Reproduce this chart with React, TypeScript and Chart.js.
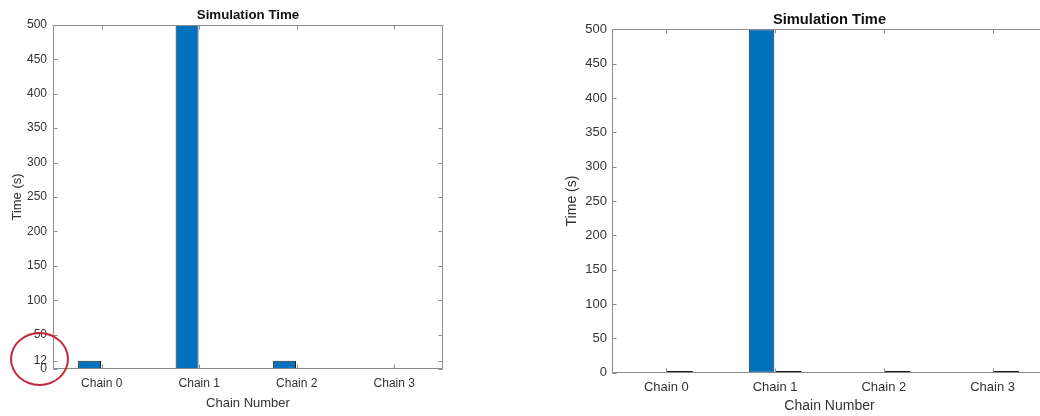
import React, { useEffect, useRef } from "react";
import { Chart, registerables } from "chart.js";

Chart.register(...registerables);

const categories = ["Chain 0", "Chain 1", "Chain 2", "Chain 3"];
const leftSeriesA = [12, 500, 12, 0];
const leftSeriesB = [1.2, 1.2, 1.2, 1.2];
const rightSeriesA = [0, 500, 0, 0];
const rightSeriesB = [2.5, 2.5, 2.5, 2.5];
const leftYTicks = [0, 12, 50, 100, 150, 200, 250, 300, 350, 400, 450, 500];
const rightYTicks = [0, 50, 100, 150, 200, 250, 300, 350, 400, 450, 500];

const titleText = "Simulation Time";
const yTitle = "Time (s)";
const xTitle = "Chain Number";

const FONT = "'Liberation Sans', Arial, Helvetica, sans-serif";
const TEXT = "#333333";
const AXIS = "#8c8c8c";
const BLUE = "#0072BD";

const framePlugin = {
  id: "matlabFrame",
  afterDatasetsDraw(chart: any) {
    const { ctx, chartArea: a, scales } = chart;
    const x = scales.x;
    const y = scales.y;
    ctx.save();
    ctx.strokeStyle = AXIS;
    ctx.lineWidth = 1;
    const L = Math.round(a.left) + 0.5;
    const R = Math.round(a.right) - 0.5;
    const T = Math.round(a.top) + 0.5;
    const B = Math.round(a.bottom) - 0.5;
    const line = (x1: number, y1: number, x2: number, y2: number) => {
      ctx.beginPath();
      ctx.moveTo(x1, y1);
      ctx.lineTo(x2, y2);
      ctx.stroke();
    };
    ctx.strokeRect(L, T, R - L, B - T);
    y.ticks.forEach((_t: any, i: number) => {
      const py = Math.round(y.getPixelForTick(i)) + 0.5;
      line(L, py, L + 4, py);
      line(R, py, R - 4, py);
    });
    x.ticks.forEach((_t: any, i: number) => {
      const px = Math.round(x.getPixelForTick(i)) + 0.5;
      line(px, B, px, B - 4);
      line(px, T, px, T + 4);
    });
    ctx.restore();
  },
};

type Cfg = {
  seriesA: number[];
  seriesB: number[];
  yTicks: number[];
  width: number;
  height: number;
  tickSize: number;
  titleSize: number;
  axisTitleSize: number;
  titlePad: { top: number; bottom: number };
  yAxisWidth: number;
  yTitlePad: number;
  yTickPad: number;
  xAxisHeight: number;
  xTickPad: number;
  xTitlePad: number;
  rightPad: number;
};

function BarPanel(props: { cfg: Cfg }) {
  const ref = useRef<HTMLCanvasElement | null>(null);
  const c = props.cfg;
  useEffect(() => {
    if (!ref.current) return;
    const chart = new Chart(ref.current, {
      type: "bar",
      data: {
        labels: categories,
        datasets: [
          {
            data: c.seriesA,
            backgroundColor: BLUE,
            borderColor: "#1f1f1f",
            borderWidth: 1,
            borderSkipped: false,
            categoryPercentage: 0.5,
            barPercentage: 0.94,
          },
          {
            data: c.seriesB,
            backgroundColor: "#1c1c1c",
            borderWidth: 0,
            categoryPercentage: 0.5,
            barPercentage: 0.94,
          },
        ],
      },
      options: {
        responsive: false,
        animation: false,
        events: [],
        layout: { padding: { left: 0, top: 0, bottom: 0, right: c.rightPad } },
        plugins: {
          legend: { display: false },
          tooltip: { enabled: false },
          title: {
            display: true,
            fullSize: false,
            text: titleText,
            color: "#111111",
            font: { family: FONT, size: c.titleSize, weight: "bold" },
            padding: c.titlePad,
          },
        },
        scales: {
          x: {
            grid: { display: false, drawTicks: false },
            border: { display: false },
            ticks: {
              color: TEXT,
              font: { family: FONT, size: c.tickSize },
              padding: c.xTickPad,
              maxRotation: 0,
              autoSkip: false,
            },
            title: {
              display: true,
              text: xTitle,
              color: TEXT,
              font: { family: FONT, size: c.axisTitleSize },
              padding: { top: 0, bottom: c.xTitlePad },
            },
            afterFit: (s: any) => {
              s.height = c.xAxisHeight;
            },
          },
          y: {
            min: 0,
            max: 500,
            grid: { display: false, drawTicks: false },
            border: { display: false },
            ticks: {
              color: TEXT,
              font: { family: FONT, size: c.tickSize },
              padding: c.yTickPad,
              autoSkip: false,
            },
            afterBuildTicks: (s: any) => {
              s.ticks = c.yTicks.map((v) => ({ value: v }));
            },
            title: {
              display: true,
              text: yTitle,
              color: TEXT,
              font: { family: FONT, size: c.axisTitleSize },
              padding: { top: c.yTitlePad, bottom: 0 },
            },
            afterFit: (s: any) => {
              s.width = c.yAxisWidth;
            },
          },
        },
      } as any,
      plugins: [framePlugin],
    });
    return () => chart.destroy();
  }, []);
  return <canvas ref={ref} width={c.width} height={c.height} style={{ display: "block" }} />;
}

const leftCfg: Cfg = {
  seriesA: leftSeriesA,
  seriesB: leftSeriesB,
  yTicks: leftYTicks,
  width: 460,
  height: 416,
  tickSize: 12,
  titleSize: 13.3,
  axisTitleSize: 13,
  titlePad: { top: 7.5, bottom: 1.5 },
  yAxisWidth: 53,
  yTitlePad: 10,
  yTickPad: 6,
  xAxisHeight: 47,
  xTickPad: 7,
  xTitlePad: 5,
  rightPad: 17,
};

const rightCfg: Cfg = {
  seriesA: rightSeriesA,
  seriesB: rightSeriesB,
  yTicks: rightYTicks,
  width: 580,
  height: 416,
  tickSize: 13,
  titleSize: 14.7,
  axisTitleSize: 14,
  titlePad: { top: 11.2, bottom: 0.5 },
  yAxisWidth: 72,
  yTitlePad: 23.6,
  yTickPad: 5,
  xAxisHeight: 43.3,
  xTickPad: 7,
  xTitlePad: 1.1,
  rightPad: 73,
};

export default function App() {
  return (
    <div
      style={{
        position: "absolute",
        left: 0,
        top: 0,
        width: 1040,
        height: 416,
        overflow: "hidden",
        background: "#ffffff",
      }}
    >
      <div style={{ position: "absolute", left: 0, top: 0 }}>
        <BarPanel cfg={leftCfg} />
      </div>
      <div style={{ position: "absolute", left: 540, top: 0 }}>
        <BarPanel cfg={rightCfg} />
      </div>
      <div
        style={{
          position: "absolute",
          left: 10,
          top: 332,
          width: 55,
          height: 50,
          border: "2px solid #c4283c",
          borderRadius: "50%",
          pointerEvents: "none",
        }}
      />
    </div>
  );
}
